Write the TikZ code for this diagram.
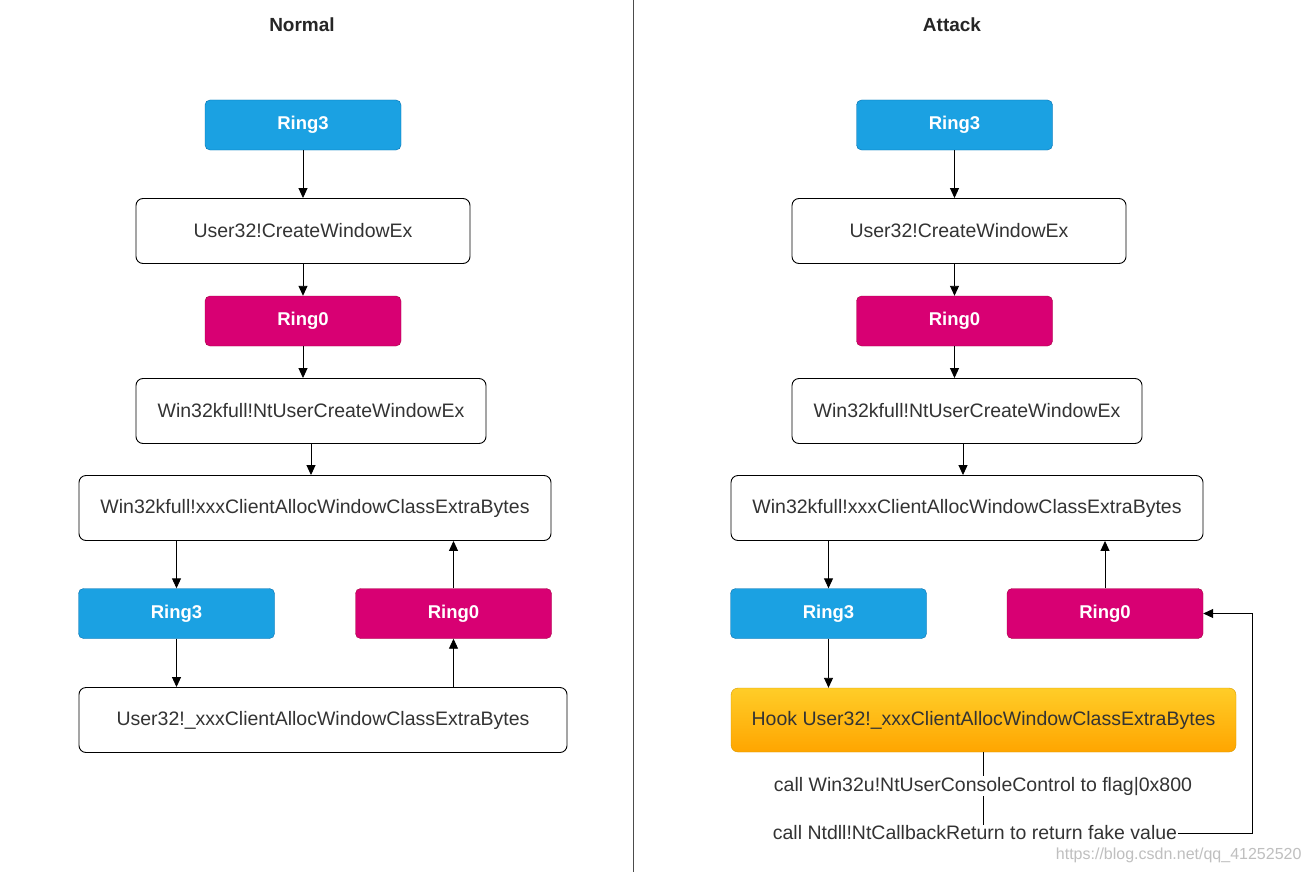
\documentclass[tikz,border=0pt]{standalone}
\usepackage{fontspec}
\setmainfont{Liberation Sans}
\usetikzlibrary{arrows.meta}

\definecolor{ringblue}{RGB}{27,161,226}
\definecolor{ringblueline}{RGB}{0,110,175}
\definecolor{ringred}{RGB}{216,0,115}
\definecolor{ringredline}{RGB}{165,0,64}
\definecolor{hooktop}{RGB}{255,205,40}
\definecolor{hookbot}{RGB}{255,165,0}
\definecolor{hookline}{RGB}{215,155,0}
\definecolor{txtgray}{RGB}{51,51,51}

\tikzset{
  ringthree/.style={draw=ringblueline, fill=ringblue, rounded corners=5pt, minimum width=196pt, minimum height=50pt, text=white, font=\fontsize{18.5}{21}\selectfont\bfseries},
  ringzero/.style={ringthree, draw=ringredline, fill=ringred},
  callbox/.style={draw=black, line width=0.9pt, rounded corners=7pt, minimum height=65pt, text=txtgray, font=\fontsize{19.5}{22}\selectfont},
  hookbox/.style={draw=hookline, top color=hooktop, bottom color=hookbot, rounded corners=7pt, minimum width=505pt, minimum height=64pt, text=txtgray, font=\fontsize{19.5}{22}\selectfont},
  note/.style={inner sep=1pt, text=txtgray, font=\fontsize{19.5}{22}\selectfont},
  flow/.style={draw=black, line width=0.9pt, -{Triangle[length=10pt,width=9pt]}},
  title/.style={font=\fontsize{19}{22}\selectfont\bfseries, text=black!85}
}

\begin{document}
\begin{tikzpicture}[x=1pt,y=-1pt]
  \useasboundingbox (0,0) rectangle (1311,872);
  \fill[white] (0,0) rectangle (1311,872);

  % divider
  \draw[line width=1pt, black!70] (633,0) -- (633,872);

  % titles
  \node[title] (tnormal) at (302,25) {Normal};
  \node[title] (tattack) at (952,25) {Attack};

  % Normal
  \node[ringthree] (nring3) at (303,125) {Ring3};
  \node[callbox, minimum width=334pt] (ncreate) at (303,231) {User32!CreateWindowEx};
  \node[ringzero] (nring0) at (303,321) {Ring0};
  \node[callbox, minimum width=350pt] (nntuser) at (311,411) {Win32kfull!NtUserCreateWindowEx};
  \node[callbox, minimum width=472pt] (nxxx) at (315,508) {Win32kfull!xxxClientAllocWindowClassExtraBytes};
  \node[ringthree] (nring3b) at (176.5,613.5) {Ring3};
  \node[ringzero] (nring0b) at (453.5,613.5) {Ring0};
  \node[callbox, minimum width=488pt] (nuser) at (323,720) {User32!\_xxxClientAllocWindowClassExtraBytes};

  \draw[flow] (nring3) -- (ncreate);
  \draw[flow] (ncreate) -- (nring0);
  \draw[flow] (nring0) -- (nntuser.north -| nring0);
  \draw[flow] (nntuser) -- (nxxx.north -| nntuser);
  \draw[flow] (nxxx.south -| nring3b) -- (nring3b);
  \draw[flow] (nring3b) -- (nuser.north -| nring3b);
  \draw[flow] (nuser.north -| nring0b) -- (nring0b);
  \draw[flow] (nring0b) -- (nxxx.south -| nring0b);

  % Attack
  \node[ringthree] (aring3) at (954.5,125) {Ring3};
  \node[callbox, minimum width=334pt] (acreate) at (959,231) {User32!CreateWindowEx};
  \node[ringzero] (aring0) at (954.5,321) {Ring0};
  \node[callbox, minimum width=350pt] (antuser) at (967,411) {Win32kfull!NtUserCreateWindowEx};
  \node[callbox, minimum width=472pt] (axxx) at (967,508) {Win32kfull!xxxClientAllocWindowClassExtraBytes};
  \node[ringthree] (aring3b) at (828.5,613.5) {Ring3};
  \node[ringzero] (aring0b) at (1105,613.5) {Ring0};
  \node[hookbox] (ahook) at (983.5,720) {Hook User32!\_xxxClientAllocWindowClassExtraBytes};
  \node[note] (aflag) at (983,786) {call Win32u!NtUserConsoleControl to flag|0x800};
  \node[note] (afake) at (975,833) {call Ntdll!NtCallbackReturn to return fake value};
  \coordinate (aback) at (1252,833);

  \draw[flow] (aring3.south -| aring0) -- (acreate.north -| aring0);
  \draw[flow] (acreate.south -| aring0) -- (aring0);
  \draw[flow] (aring0) -- (antuser.north -| aring0);
  \draw[flow] (antuser.south -| 963,0) -- (axxx.north -| 963,0);
  \draw[flow] (axxx.south -| aring3b) -- (aring3b);
  \draw[flow] (aring3b) -- (ahook.north -| aring3b);
  \draw[flow] (aring0b) -- (axxx.south -| aring0b);
  \draw[line width=0.9pt] (ahook.south -| aflag) -- (aflag);
  \draw[line width=0.9pt] (aflag.south) -- (afake.north -| aflag);
  \draw[flow] (afake.east) -- (aback) |- (aring0b.east);

  % watermark
  \node[anchor=east, text=black!25, font=\fontsize{16}{18}\selectfont] (mark) at (1305,855) {https://blog.csdn.net/qq\_41252520};
\end{tikzpicture}
\end{document}
